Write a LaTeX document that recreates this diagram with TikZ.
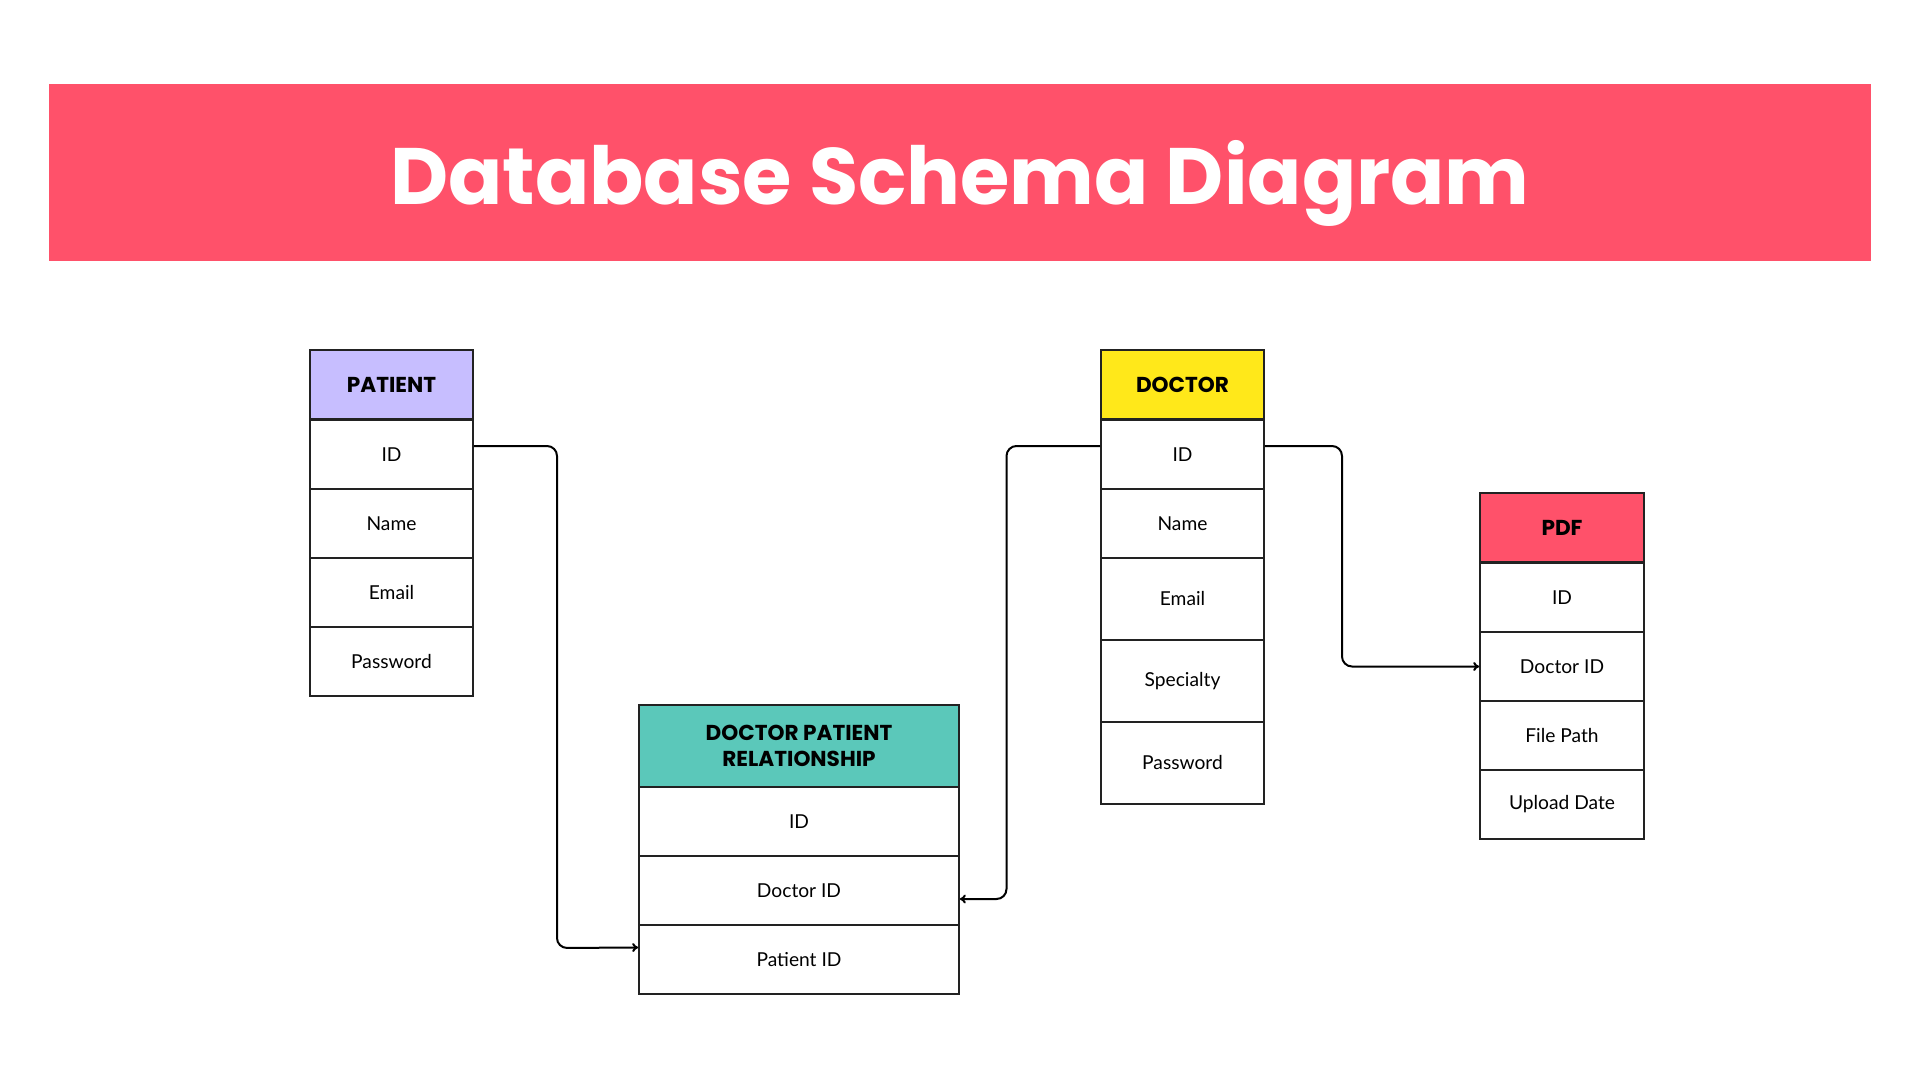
\documentclass[tikz,border=0pt]{standalone}
\usepackage{fontspec}
\setmainfont{Lato}
\newfontfamily\headfont{Poppins}
\usetikzlibrary{arrows.meta,calc}
\definecolor{banner}{RGB}{255,81,106}
\definecolor{lav}{RGB}{199,190,255}
\definecolor{yel}{RGB}{255,232,26}
\definecolor{teal}{RGB}{91,200,186}
\definecolor{edge}{RGB}{34,34,34}
\tikzset{
  cell/.style={draw=edge, line width=0.8pt, minimum width=#1, inner sep=0pt, align=center, font=\fontsize{9.6}{11}\selectfont},
  hd/.style={cell=#1, font=\headfont\bfseries\fontsize{10.8}{13.2}\selectfont},
  link/.style={draw=black, line width=1pt, rounded corners=5pt, -{To[length=3pt,width=4.5pt]}}
}
\begin{document}
\begin{tikzpicture}[x=0.5pt,y=-0.5pt]
\useasboundingbox (0,0) rectangle (1920,1080);
\fill[white] (0,0) rectangle (1920,1080);
% banner
\node[fill=banner, minimum width=911pt, minimum height=88.25pt, inner sep=0pt] (banner) at (960,172.75) {};
\node[text=white, font=\headfont\bfseries\fontsize{40}{44}\selectfont] (title) at (960,183) {Database Schema Diagram};
% PATIENT
\node[hd=81.5pt, fill=lav, minimum height=34.5pt] (ph) at (391.5,384.5) {PATIENT};
\node[cell=81.5pt, minimum height=34.5pt] (pid) at (391.5,454.5) {ID};
\node[cell=81.5pt, minimum height=34.5pt] (pname) at (391.5,523.5) {Name};
\node[cell=81.5pt, minimum height=34.5pt] (pemail) at (391.5,592.5) {Email};
\node[cell=81.5pt, minimum height=34.5pt] (ppw) at (391.5,661.5) {Password};
% DOCTOR
\node[hd=81.5pt, fill=yel, minimum height=34.5pt] (dh) at (1182.5,384.5) {DOCTOR};
\node[cell=81.5pt, minimum height=34.5pt] (did) at (1182.5,454.5) {ID};
\node[cell=81.5pt, minimum height=34.5pt] (dname) at (1182.5,523.5) {Name};
\node[cell=81.5pt, minimum height=41pt] (demail) at (1182.5,599) {Email};
\node[cell=81.5pt, minimum height=41pt] (dspec) at (1182.5,681) {Specialty};
\node[cell=81.5pt, minimum height=41pt] (dpw) at (1182.5,763) {Password};
% PDF
\node[hd=82pt, fill=banner, minimum height=34.5pt] (fh) at (1562,527.5) {PDF};
\node[cell=82pt, minimum height=34.5pt] (fid) at (1562,597.5) {ID};
\node[cell=82pt, minimum height=34.5pt] (fdoc) at (1562,666.5) {Doctor ID};
\node[cell=82pt, minimum height=34.5pt] (fpath) at (1562,735.5) {File Path};
\node[cell=82pt, minimum height=34.5pt] (fdate) at (1562,804.5) {Upload Date};
% DOCTOR PATIENT RELATIONSHIP
\node[hd=160pt, fill=teal, minimum height=41pt] (rh) at (799,746) {DOCTOR PATIENT\\RELATIONSHIP};
\node[cell=160pt, minimum height=34.5pt] (rid) at (799,821.5) {ID};
\node[cell=160pt, minimum height=34.5pt] (rdoc) at (799,890.5) {Doctor ID};
\node[cell=160pt, minimum height=34.5pt] (rpat) at (799,959.5) {Patient ID};
% connectors
\coordinate (a1) at ($(pid.east)+(0,-8.5)$);
\coordinate (a2) at ($(rpat.west)+(0,-12)$);
\draw[link] (a1) -- (557,446) -- (557,948) -- (a2);
\coordinate (b1) at ($(did.west)+(0,-8.5)$);
\coordinate (b2) at ($(rdoc.east)+(0,8.5)$);
\draw[link] (b1) -- (1006.5,446) -- (1006.5,899) -- (b2);
\coordinate (c1) at ($(did.east)+(0,-8.5)$);
\coordinate (c2) at (1342,446);
\draw[link] (c1) -- (c2) -- (c2 |- fdoc.west) -- (fdoc.west);
\end{tikzpicture}
\end{document}
